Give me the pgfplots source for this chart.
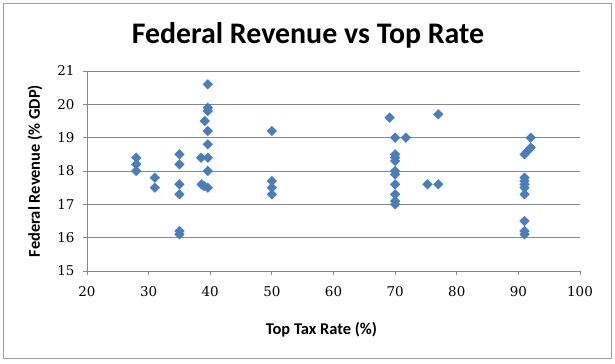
\documentclass[border=0pt]{standalone}
\usepackage{pgfplots}
\pgfplotsset{compat=1.18}
\usepackage{fontspec}
\setmainfont{Carlito}
\newfontfamily\tickfont{DejaVu Serif}
\definecolor{mk}{HTML}{4A7EBB}
\definecolor{gridc}{HTML}{878787}
\begin{document}
\begin{tikzpicture}[x=1bp,y=1bp]
\fill[white] (-87,-92) rectangle (528,271);
\draw[gridc!80,line width=0.8bp] (-84,-87) rectangle (524,268);
\begin{axis}[
  at={(0,0)}, anchor=origin,
  scale only axis, width=493bp, height=200bp,
  xmin=20, xmax=100, ymin=15, ymax=21,
  xtick={20,30,...,100}, ytick={15,16,...,21},
  xticklabels={20,30,40,50,60,70,80,90,100},
  yticklabels={15,16,17,18,19,20,21},
  axis x line*=bottom, axis y line*=left,
  axis line style={gridc, line width=0.8bp, -},
  ymajorgrids, grid style={gridc, line width=0.8bp},
  tick style={gridc, line width=0.8bp},
  tick align=outside, major tick length=4bp,
  tick label style={font=\tickfont\fontsize{13.5}{14}\selectfont, text=black},
  xticklabel style={yshift=-8bp},
  yticklabel style={xshift=-5bp},
  xlabel={\bfseries Top Tax Rate (\%)},
  ylabel={\bfseries Federal Revenue (\% GDP)},
  label style={font=\fontsize{16.5}{18}\selectfont},
  xlabel style={at={(axis description cs:0.5,0)}, anchor=center, yshift=-59bp, xshift=-12bp},
  every axis y label/.append style={at={(-52bp,100bp)}, anchor=center},
  clip=false,
]
\addplot[only marks, mark=square*, mark size=3.4bp, mark options={rotate=45, fill=mk, draw=mk}] coordinates {
(28,18.4) (28,18.2) (28,18.0)
(31,17.8) (31,17.5)
(35,18.5) (35,18.2) (35,17.6) (35,17.3) (35,16.2) (35,16.1)
(38.5,18.4) (38.6,17.6) (39.0,17.55) (39.1,19.5)
(39.6,20.6) (39.6,19.9) (39.6,19.8) (39.6,19.2) (39.6,18.8) (39.6,18.4) (39.6,18.0) (39.6,17.5)
(50,19.2) (50,17.7) (50,17.5) (50,17.3)
(69.1,19.6)
(70,19.0) (70,18.5) (70,18.4) (70,18.3) (70,18.0) (70,17.9) (70,17.6) (70,17.3) (70,17.1) (70,17.0)
(71.75,19.0)
(75.25,17.6)
(77,19.7) (77,17.6)
(91,18.5) (91,17.8) (91,17.7) (91,17.6) (91,17.5) (91,17.3) (91,16.5) (91,16.2) (91,16.1)
(91.5,18.6)
(92,19.0) (92,18.7)
};
\end{axis}
\node[font=\bfseries\fontsize{30}{34}\selectfont] at (221,236) {Federal Revenue vs Top Rate};
\end{tikzpicture}
\end{document}
